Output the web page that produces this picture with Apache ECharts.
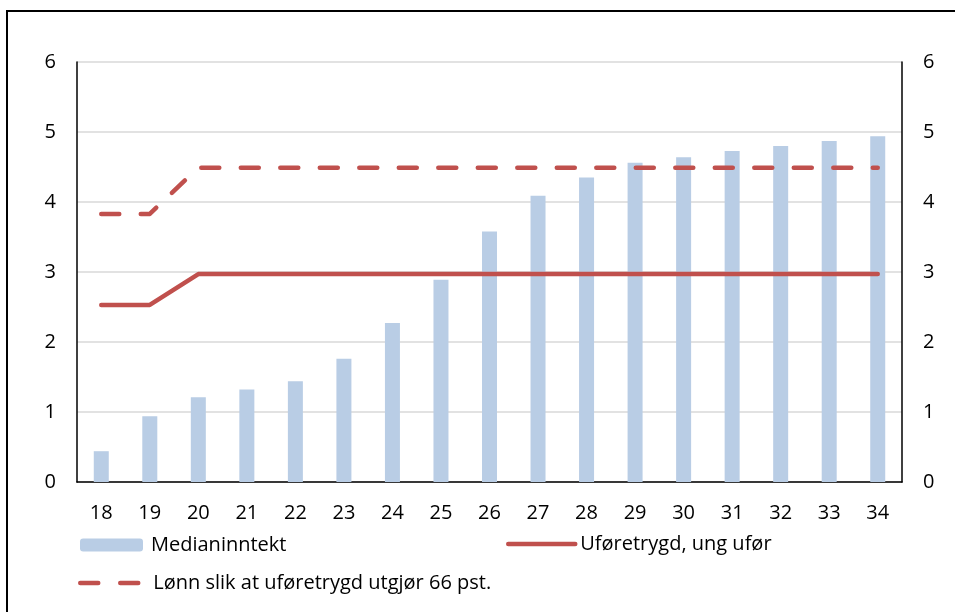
<!DOCTYPE html>
<html>
<head>
<meta charset="utf-8">
<script src="https://cdn.jsdelivr.net/npm/echarts@6/dist/echarts.min.js"></script>
<style>
html,body{margin:0;padding:0;background:#fff;}
#c{width:955px;height:612px;}
</style>
</head>
<body>
<div id="c"></div>
<script>
var categories = ['18','19','20','21','22','23','24','25','26','27','28','29','30','31','32','33','34'];
var medianinntekt = [0.44,0.94,1.21,1.32,1.44,1.76,2.27,2.89,3.58,4.09,4.35,4.56,4.64,4.73,4.80,4.87,4.94];
var uforetrygd = [2.53,2.53,2.97,2.97,2.97,2.97,2.97,2.97,2.97,2.97,2.97,2.97,2.97,2.97,2.97,2.97,2.97];
var lonn66 = [3.83,3.83,4.49,4.49,4.49,4.49,4.49,4.49,4.49,4.49,4.49,4.49,4.49,4.49,4.49,4.49,4.49];
var yTicks = [0,1,2,3,4,5,6];

var FONT = 'Open Sans';
var FS = 20;
var red = '#C0504D';
var blue = '#B9CDE5';

var chart = echarts.init(document.getElementById('c'), null, {renderer:'canvas'});
var yAxisCommon = {
  type:'value', min:yTicks[0], max:yTicks[yTicks.length-1], interval:1,
  axisLine:{show:true, lineStyle:{color:'#000', width:1.5}},
  axisTick:{show:false},
  axisLabel:{color:'#000', fontFamily:FONT, fontSize:FS, margin:21},
  splitLine:{show:true, lineStyle:{color:'#D9D9D9', width:1.5}}
};
var legText = {color:'#000', fontFamily:FONT, fontSize:FS};
chart.setOption({
  animation:false,
  backgroundColor:'#fff',
  textStyle:{fontFamily:FONT},
  graphic:[{type:'rect', shape:{x:7, y:11, width:1000, height:700}, style:{fill:null, stroke:'#000', lineWidth:2}, silent:true, z:-1}],
  grid:{left:77, right:53, top:62, bottom:130},
  legend:[
    {data:['Medianinntekt'], left:80, top:535, padding:0, itemWidth:63, itemHeight:13, itemGap:0,
     textStyle:Object.assign({padding:[0,0,0,3]}, legText)},
    {data:['Uføretrygd, ung ufør'], left:506, top:534, padding:0, itemWidth:67, itemHeight:14, itemGap:0,
     itemStyle:{opacity:0},
     lineStyle:{color:red, width:4.5, cap:'round', type:'solid'},
     textStyle:Object.assign({padding:[0,0,0,0]}, legText)},
    {data:['Lønn slik at uføretrygd utgjør 66 pst.'], left:78, top:573, padding:0, itemWidth:63, itemHeight:14, itemGap:0,
     itemStyle:{opacity:0},
     lineStyle:{color:red, width:4.5, cap:'round', type:[18,22]},
     textStyle:Object.assign({padding:[0,0,0,5]}, legText)}
  ],
  xAxis:{
    type:'category', data:categories,
    axisLine:{show:true, lineStyle:{color:'#000', width:1.5}},
    axisTick:{show:false},
    axisLabel:{color:'#000', fontFamily:FONT, fontSize:FS, margin:21}
  },
  yAxis:[
    Object.assign({position:'left'}, yAxisCommon),
    Object.assign({position:'right'}, yAxisCommon, {splitLine:{show:false}})
  ],
  series:[
    {name:'Medianinntekt', type:'bar', data:medianinntekt, barWidth:15,
     itemStyle:{color:blue}},
    {name:'Uføretrygd, ung ufør', type:'line', data:uforetrygd, symbol:'none',
     lineStyle:{color:red, width:4.5, cap:'round', join:'round'}, itemStyle:{color:red}},
    {name:'Lønn slik at uføretrygd utgjør 66 pst.', type:'line', data:lonn66, symbol:'none',
     lineStyle:{color:red, width:4.5, type:[18,21.5], cap:'round', join:'round'}, itemStyle:{color:red}}
  ]
});
</script>
</body>
</html>
